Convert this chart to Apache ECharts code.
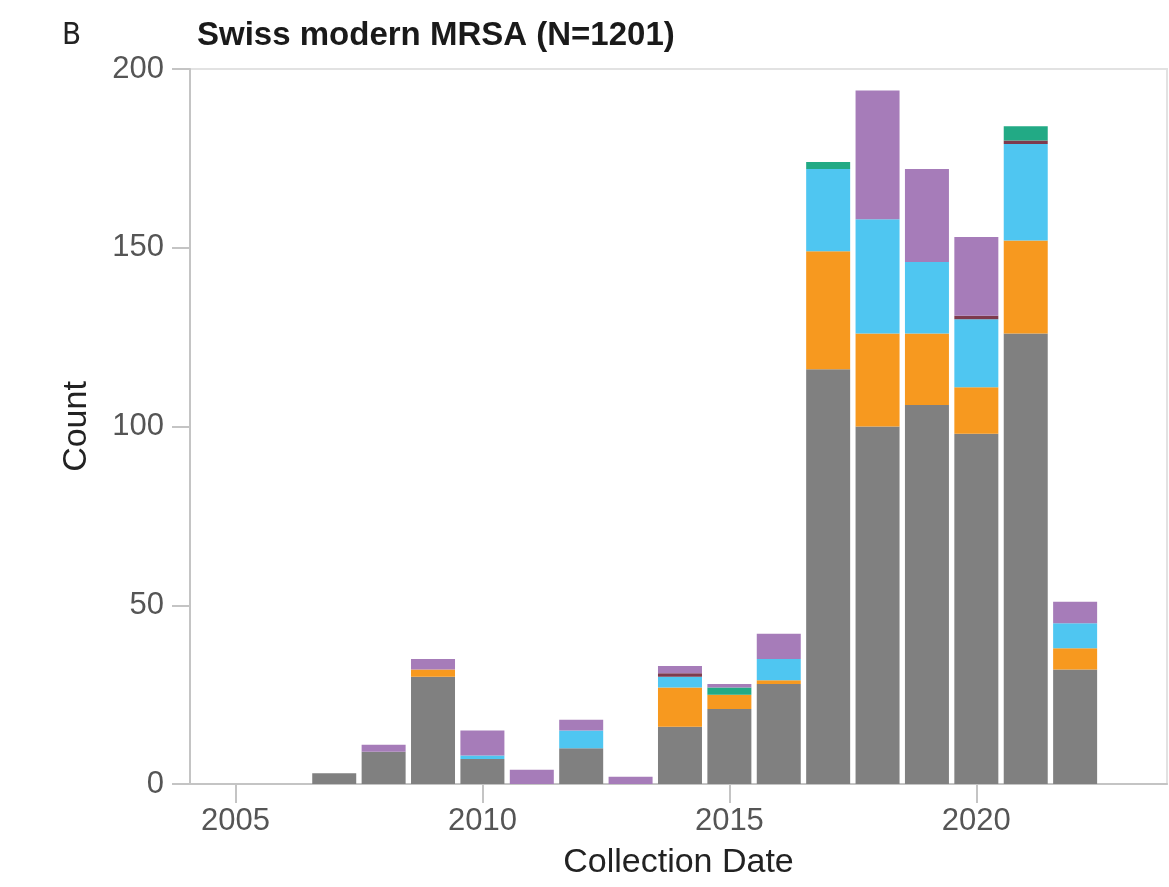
<!DOCTYPE html>
<html>
<head>
<meta charset="utf-8">
<script src="https://cdn.jsdelivr.net/npm/echarts@6/dist/echarts.min.js"></script>
<style>
  html, body { margin: 0; padding: 0; background: #fff; }
  #chart { width: 1169px; height: 887px; }
</style>
</head>
<body>
<div id="chart"></div>
<script>
// collection years, one bar per year
var years = ['2007', '2008', '2009', '2010', '2011', '2012', '2013', '2014', '2015', '2016', '2017', '2018', '2019', '2020', '2021', '2022'];

// counts per group, stacked bottom to top
var grayVals    = [3, 9, 30, 7, 0, 10, 0, 16, 21, 28, 116, 100, 106, 98, 126, 32];
var orangeVals  = [0, 0, 2, 0, 0, 0, 0, 11, 4, 1, 33, 26, 20, 13, 26, 6];
var blueVals    = [0, 0, 0, 1, 0, 5, 0, 3, 0, 6, 23, 32, 20, 19, 27, 7];
var darkredVals = [0, 0, 0, 0, 0, 0, 0, 1, 0, 0, 0, 0, 0, 1, 1, 0];
var greenVals   = [0, 0, 0, 0, 0, 0, 0, 0, 2, 0, 2, 0, 0, 0, 4, 0];
var purpleVals  = [0, 2, 3, 7, 4, 3, 2, 2, 1, 7, 0, 36, 26, 22, 0, 6];

var xTicks = [2005, 2010, 2015, 2020];

// visible year axis range
var xMin = 2004.08, xMax = 2023.86;
var gridLeft = 190, gridRight = 2;
var pxPerYear = (1169 - gridLeft - gridRight) / (xMax - xMin);
// bar grid lines up its categories with the year axis
var barLeft = gridLeft + (Number(years[0]) - 0.5 - xMin) * pxPerYear;
var barRight = 1169 - (barLeft + years.length * pxPerYear);

var mkSeries = function(name, vals, color){
    return {
        name: name,
        type: 'bar',
        stack: 'all',
        xAxisIndex: 1,
        yAxisIndex: 1,
        barWidth: 44,
        itemStyle: {color: color},
        data: vals
    };
};

var myChart = echarts.init(document.getElementById('chart'));

myChart.setOption({
    animation: false,
    textStyle: {fontFamily: 'Liberation Sans'},
    title: [
        {
            text: 'B',
            left: 57, top: 15,
            textStyle: {fontSize: 31, fontWeight: 'normal', color: '#222', fontFamily: 'DejaVu Sans Condensed'}
        },
        {
            text: 'Swiss modern MRSA (N=1201)',
            left: 192, top: 14,
            textStyle: {fontSize: 33, fontWeight: 'bold', color: '#1a1a1a'}
        }
    ],
    grid: [
        {
            left: gridLeft, right: gridRight, top: 69, bottom: 103,
            outerBoundsMode: 'none',
            show: true,
            borderColor: '#e2e2e2',
            borderWidth: 2
        },
        {left: barLeft, right: barRight, top: 69, bottom: 103, outerBoundsMode: 'none'}
    ],
    xAxis: [
        {
            type: 'value',
            gridIndex: 0,
            min: xMin,
            max: xMax,
            name: 'Collection Date',
            nameLocation: 'middle',
            nameGap: 62,
            nameTextStyle: {fontSize: 34, color: '#222'},
            axisLine: {show: true, lineStyle: {color: '#c4c4c4', width: 2}},
            axisTick: {show: true, length: 19, customValues: xTicks, lineStyle: {color: '#c4c4c4', width: 2}},
            axisLabel: {
                customValues: xTicks, fontSize: 31, color: '#555', margin: 22,
                formatter: function(v){ return String(v); }
            },
            splitLine: {show: false}
        },
        {
            type: 'category',
            gridIndex: 1,
            data: years,
            show: false
        }
    ],
    yAxis: [
        {
            type: 'value',
            gridIndex: 0,
            min: 0,
            max: 200,
            interval: 50,
            name: 'Count',
            nameLocation: 'middle',
            nameRotate: 90,
            nameGap: 96,
            nameTextStyle: {fontSize: 34, color: '#222'},
            axisLine: {show: true, lineStyle: {color: '#c4c4c4', width: 2}},
            axisTick: {show: true, length: 18, lineStyle: {color: '#c4c4c4', width: 2}},
            axisLabel: {fontSize: 31, color: '#555', margin: 26},
            splitLine: {show: false}
        },
        {
            type: 'value',
            gridIndex: 1,
            min: 0,
            max: 200,
            show: false,
            splitLine: {show: false}
        }
    ],
    series: [
        mkSeries('gray', grayVals, '#808080'),
        mkSeries('orange', orangeVals, '#F7991F'),
        mkSeries('blue', blueVals, '#4FC6F1'),
        mkSeries('darkred', darkredVals, '#7D3A4E'),
        mkSeries('green', greenVals, '#22AA85'),
        mkSeries('purple', purpleVals, '#A67CB9')
    ]
});
</script>
</body>
</html>
